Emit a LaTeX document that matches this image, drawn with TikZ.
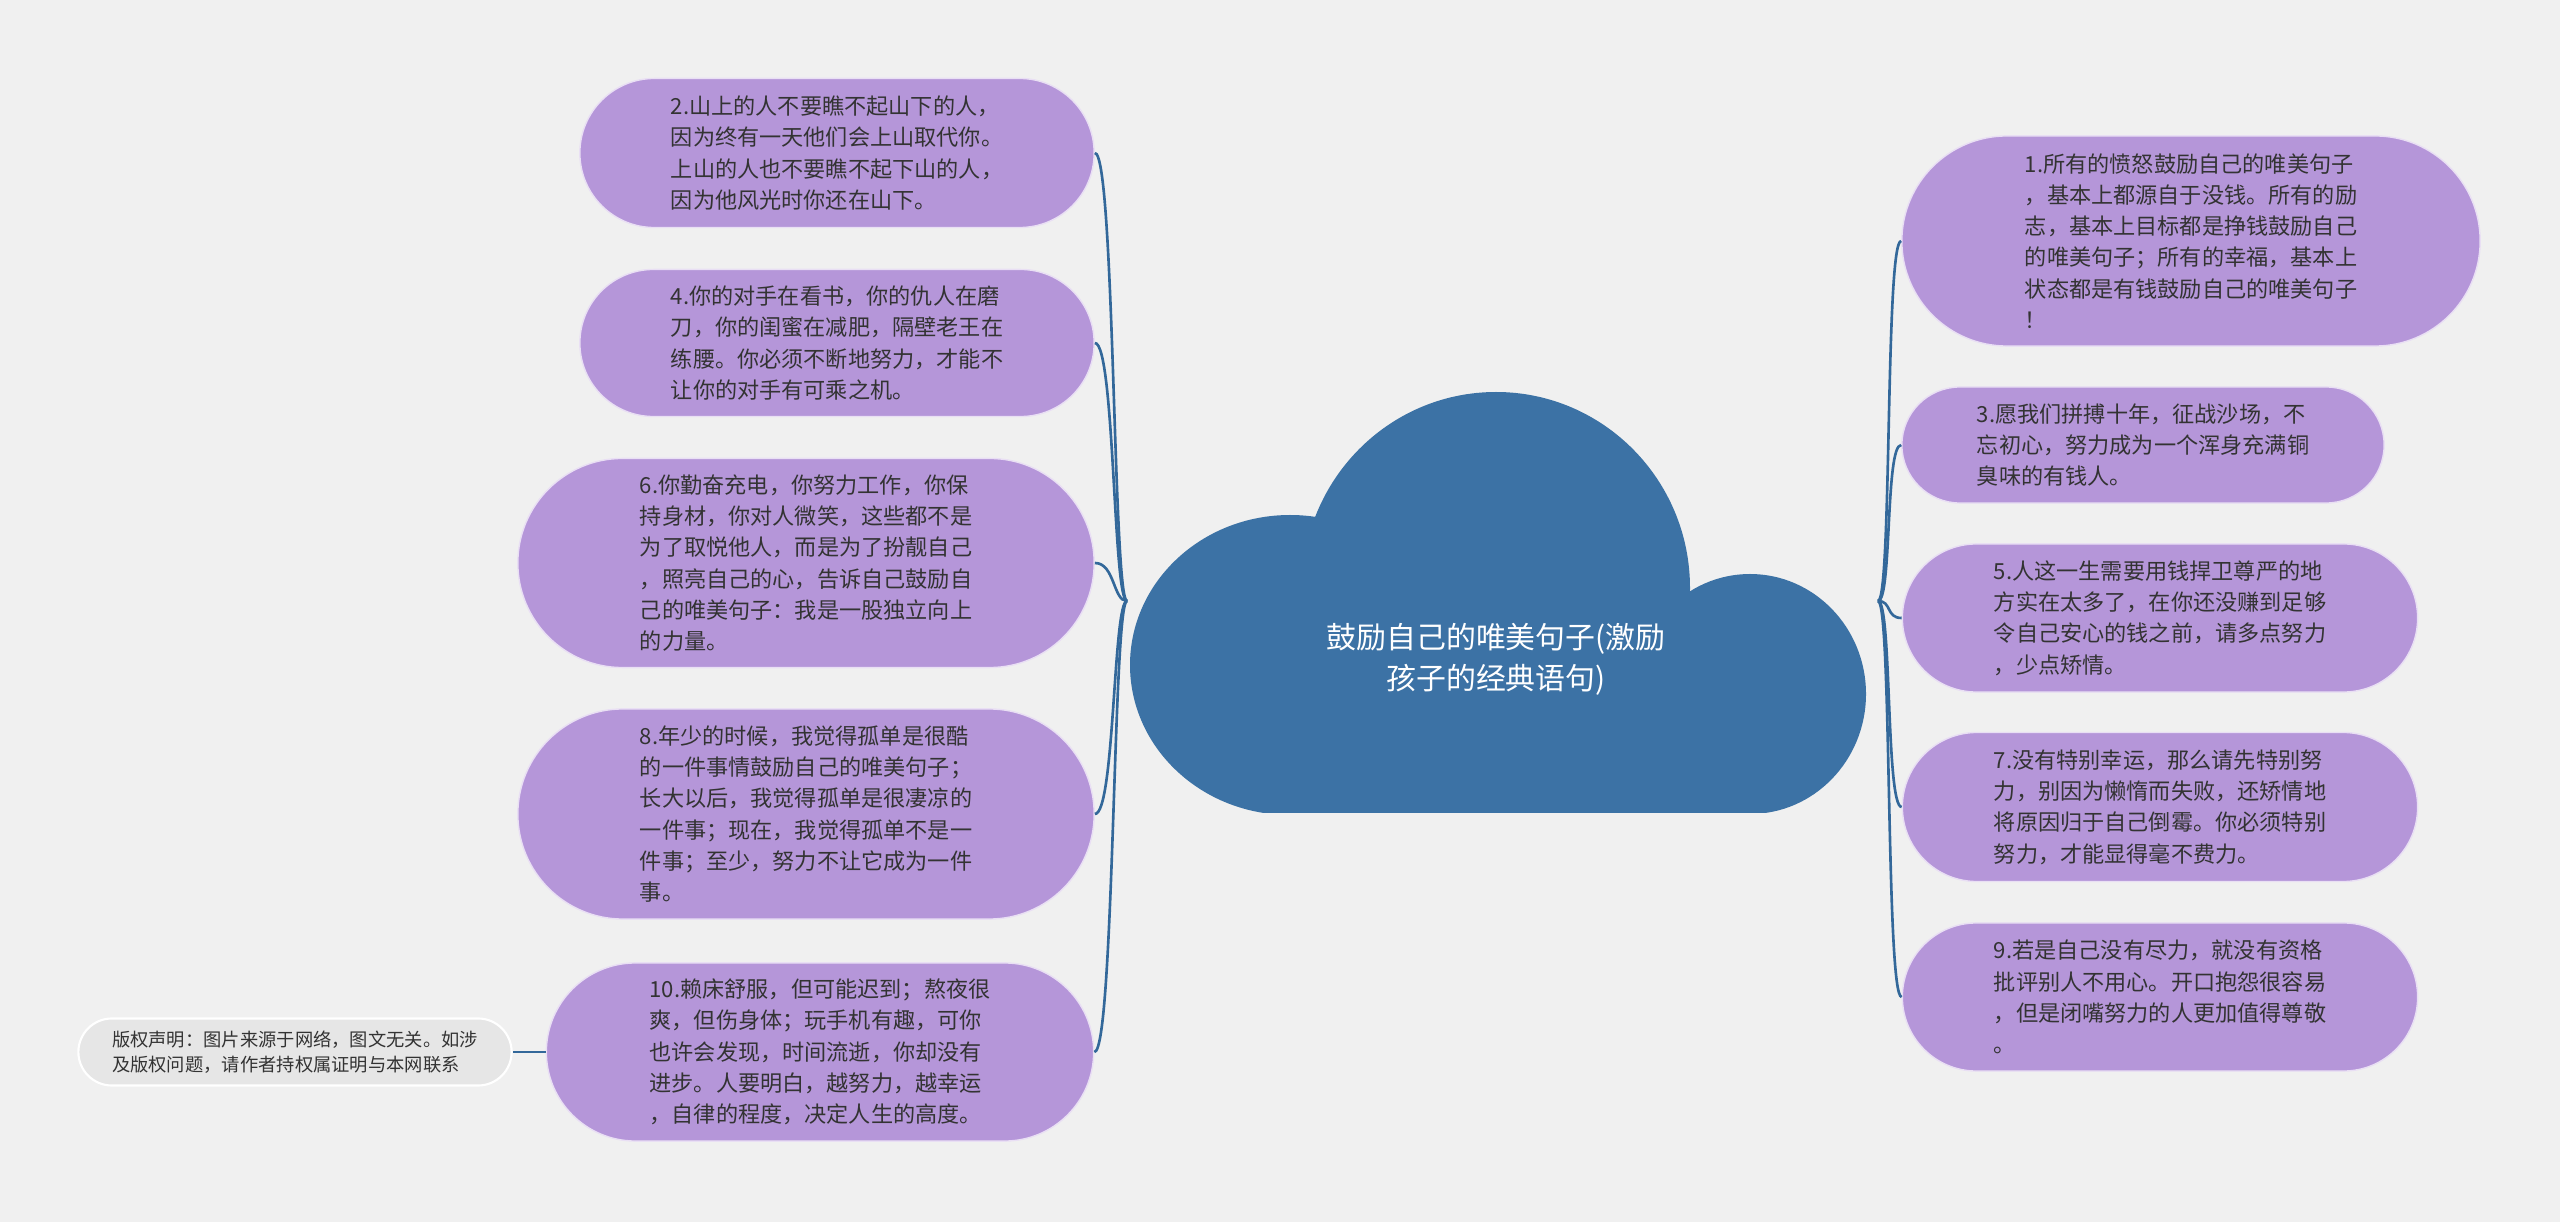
\documentclass[tikz,border=0pt]{standalone}
\usepackage{fontspec}
\newfontfamily\cjk{Noto Sans CJK SC}
\usetikzlibrary{shapes.misc}
\definecolor{bgcol}{HTML}{F0F0F0}
\definecolor{leafcol}{HTML}{B596D9}
\definecolor{cloudcol}{HTML}{3C72A5}
\definecolor{linkcol}{HTML}{33689A}
\definecolor{textcol}{HTML}{333333}
\definecolor{notecol}{HTML}{E6E6E6}
\def\leafsize{\fontsize{6.3pt}{8.9pt}\selectfont}
\def\notesize{\fontsize{5.2pt}{7.1pt}\selectfont}
\def\titlesize{\fontsize{8.5pt}{11.7pt}\selectfont}
\tikzset{
  leaf/.style={rounded rectangle, fill=leafcol, draw=white!70!leafcol, line width=0.4pt,
    inner sep=0pt, align=left, text=textcol, font=\cjk\leafsize},
  note/.style={rounded rectangle, fill=notecol, draw=white, line width=0.6pt,
    inner sep=0pt, align=left, text=textcol, font=\cjk\notesize},
  link/.style={draw=linkcol, line width=0.75pt},
}

\begin{document}
\begin{tikzpicture}[x=0.01cm, y=-0.01cm]
		%%%%% START %%%%%
		\fill[bgcol] (0, 0) rectangle (2560, 1222);
		
		% cloud
		\begin{scope}
			\clip (1100, 380) rectangle (1900, 813);
			\fill[cloudcol] (1496, 588) ellipse [x radius=194, y radius=196];
			\fill[cloudcol] (1290, 665) ellipse [x radius=160, y radius=150];
			\fill[cloudcol] (1750, 694) ellipse [x radius=116, y radius=120];
			\fill[cloudcol] (1290, 640) rectangle (1750, 813);
		\end{scope}
		\node[align=center, text=white, font=\cjk\titlesize] (title) at (1496, 659)
			{鼓励自己的唯美句子(激励\\孩子的经典语句)};
		
		\coordinate (rootL) at (1127, 601);
		\coordinate (rootR) at (1878, 601);
		
		% left side
		\node[leaf, minimum width=5.14cm, minimum height=1.49cm] (n2) at (837, 153)
			{2.山上的人不要瞧不起山下的人，\\因为终有一天他们会上山取代你。\\上山的人也不要瞧不起下山的人，\\因为他风光时你还在山下。};
		\node[leaf, minimum width=5.14cm, minimum height=1.47cm] (n4) at (837, 343)
			{4.你的对手在看书，你的仇人在磨\\刀，你的闺蜜在减肥，隔壁老王在\\练腰。你必须不断地努力，才能不\\让你的对手有可乘之机。};
		\node[leaf, minimum width=5.76cm, minimum height=2.09cm] (n6) at (806, 563)
			{6.你勤奋充电，你努力工作，你保\\持身材，你对人微笑，这些都不是\\为了取悦他人，而是为了扮靓自己\\，照亮自己的心，告诉自己鼓励自\\己的唯美句子：我是一股独立向上\\的力量。};
		\node[leaf, minimum width=5.76cm, minimum height=2.10cm] (n8) at (806, 814)
			{8.年少的时候，我觉得孤单是很酷\\的一件事情鼓励自己的唯美句子；\\长大以后，我觉得孤单是很凄凉的\\一件事；现在，我觉得孤单不是一\\件事；至少，努力不让它成为一件\\事。};
		\node[leaf, minimum width=5.47cm, minimum height=1.78cm] (n10) at (820, 1052)
			{10.赖床舒服，但可能迟到；熬夜很\\爽，但伤身体；玩手机有趣，可你\\也许会发现，时间流逝，你却没有\\进步。人要明白，越努力，越幸运\\，自律的程度，决定人生的高度。};
		\node[note, minimum width=4.33cm, minimum height=0.67cm] (note) at (295, 1052)
			{版权声明：图片来源于网络，图文无关。如涉\\及版权问题，请作者持权属证明与本网联系};
		
		% right side
		\node[leaf, minimum width=5.78cm, minimum height=2.10cm] (n1) at (2191, 241)
			{1.所有的愤怒鼓励自己的唯美句子\\，基本上都源自于没钱。所有的励\\志，基本上目标都是挣钱鼓励自己\\的唯美句子；所有的幸福，基本上\\状态都是有钱鼓励自己的唯美句子\\！};
		\node[leaf, minimum width=4.82cm, minimum height=1.16cm] (n3) at (2143, 445)
			{3.愿我们拼搏十年，征战沙场，不\\忘初心，努力成为一个浑身充满铜\\臭味的有钱人。};
		\node[leaf, minimum width=5.15cm, minimum height=1.48cm] (n5) at (2160, 618)
			{5.人这一生需要用钱捍卫尊严的地\\方实在太多了，在你还没赚到足够\\令自己安心的钱之前，请多点努力\\，少点矫情。};
		\node[leaf, minimum width=5.15cm, minimum height=1.49cm] (n7) at (2160, 807)
			{7.没有特别幸运，那么请先特别努\\力，别因为懒惰而失败，还矫情地\\将原因归于自己倒霉。你必须特别\\努力，才能显得毫不费力。};
		\node[leaf, minimum width=5.15cm, minimum height=1.48cm] (n9) at (2160, 997)
			{9.若是自己没有尽力，就没有资格\\批评别人不用心。开口抱怨很容易\\，但是闭嘴努力的人更加值得尊敬\\。};
		
		% links
		\foreach \n in {n2, n4, n6, n8, n10}
			\draw[link] (rootL) .. controls +(-14, 0) and +(20, 0) .. (\n.east);
		\foreach \n in {n1, n3, n5, n7, n9}
			\draw[link] (rootR) .. controls +(14, 0) and +(-16, 0) .. (\n.west);
		\draw[link] (n10.west) -- (note.east);
		%%%%% END %%%%%
\end{tikzpicture}
\end{document}
